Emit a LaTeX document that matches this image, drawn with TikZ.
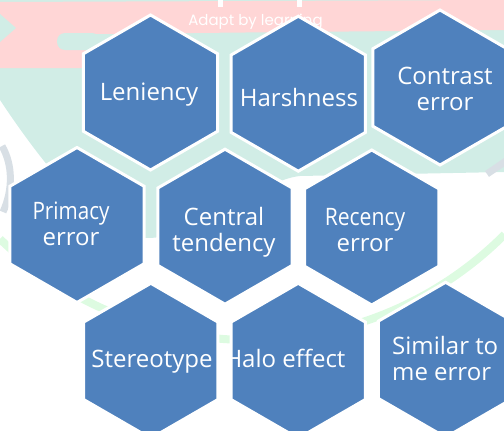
\documentclass[tikz,border=0pt]{standalone}
\usepackage{fontspec}
\setmainfont{Open Sans}
\newfontfamily\wmfont{Poppins}
\usetikzlibrary{shapes.geometric}

\definecolor{hexblue}{HTML}{4F81BD}
\definecolor{wmpink}{HTML}{FFD6D6}
\definecolor{wmmint}{HTML}{D1EDE6}
\definecolor{wmgreen}{HTML}{DDFBE1}
\definecolor{wmgray}{HTML}{D8DFE5}

\begin{document}
\begin{tikzpicture}[x=1pt,y=-1pt,
    hexa/.style={regular polygon,regular polygon sides=6,shape border rotate=30,
      minimum size=155pt,inner sep=0pt,fill=hexblue,draw=white,line width=3pt},
    lbl/.style={text=white,font=\fontsize{24}{26}\selectfont,align=center,
      inner sep=0pt,anchor=base}]

    \useasboundingbox (0,0) rectangle (504,431);
    \clip (0,0) rectangle (504,431);

    % watermark behind the cells
    \fill[wmmint] (0,100) .. controls (40,160) and (100,240) .. (150,238) .. controls (200,236) and (260,180) .. (300,176) -- (504,172) -- (504,0) -- (0,0) -- cycle;
    \fill[wmpink] (0,2) -- (504,0) -- (504,30) -- (90,34) -- (84,68) -- (0,68) -- cycle;
    \fill[wmmint] (0,14) -- (16,28) -- (0,42) -- cycle;
    \fill[wmmint,rounded corners=8pt] (57,33) rectangle (100,50);
    \fill[white] (218,0) rectangle (223,7);
    \fill[white] (297,0) rectangle (302,7);
    \node[text=white,font=\wmfont\fontsize{15}{18}\selectfont,anchor=base] (wmtext) at (255.5,26) {Adapt by learning};
    \draw[wmgreen,line width=8pt] (250,-20) ++(45:360) arc[start angle=45,end angle=134,radius=360];
    \draw[wmgray,line width=7pt] (2,146) .. controls (13,165) and (13,190) .. (3,212);
    \draw[wmgray,line width=7pt] (487,174) -- (506,161);

    % row 1
    \node[hexa] (leniency) at (150.5,92.5) {};
    \node[hexa] (harshness) at (298.3,93.7) {};
    \node[hexa] (contrast) at (440,87.5) {};
    \node[lbl] (leniency-t) at (149,100) {Leniency};
    \node[lbl] (harshness-t) at (299,106) {Harshness};
    \node[lbl] (contrast-t) at (445,110) {Contrast\\error};

    % row 2
    \node[hexa] (primacy) at (77,225) {};
    \node[hexa] (central) at (225,226.7) {};
    \node[hexa] (recency) at (371.7,227.5) {};
    \node[lbl] (primacy-t) at (71,245) {\scalebox{.86}[1]{Primacy}\\error};
    \node[lbl] (central-t) at (224,251) {Central\\tendency};
    \node[lbl] (recency-t) at (365,251) {\scalebox{.88}[1]{Recency}\\error};

    % row 3
    \node[hexa] (stereotype) at (150.8,360.8) {};
    \node[hexa] (halo) at (298.2,360.8) {};
    \node[hexa] (similar) at (445.6,359.8) {};
    \node[lbl] (stereotype-t) at (152,367) {Stereotype};
    \node[lbl] (halo-t) at (285,367) {Halo effect};
    \node[lbl,align=left,anchor=base west] (similar-t) at (392,380) {Similar to\\me error};
\end{tikzpicture}
\end{document}
